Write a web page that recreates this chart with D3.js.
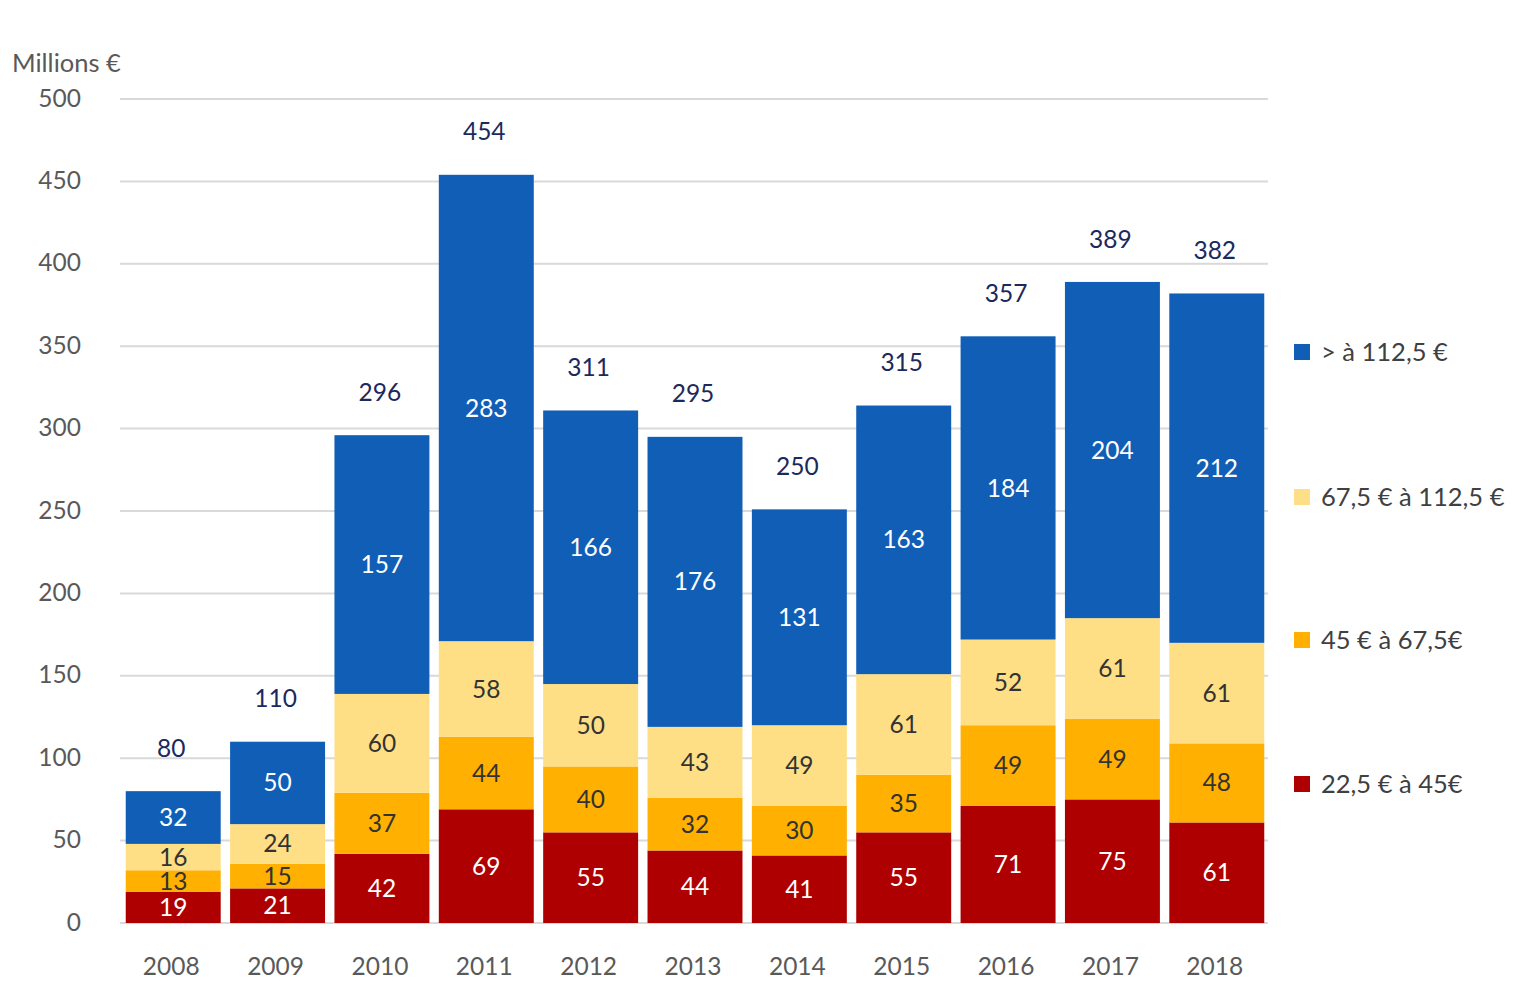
<!DOCTYPE html>
<html><head><meta charset="utf-8">
<script src="https://cdn.jsdelivr.net/npm/d3@7"></script>
<style>body{margin:0;background:#fff}svg{font-family:Lato,"Open Sans",sans-serif}</style>
</head><body><svg id="c" width="1518" height="994"></svg>
<script>
const years = ["2008","2009","2010","2011","2012","2013","2014","2015","2016","2017","2018"];
const seriesNames = ["22,5 € à 45€","45 € à 67,5€","67,5 € à 112,5 €","> à 112,5 €"];
const s1 = [19,21,42,69,55,44,41,55,71,75,61];
const s2 = [13,15,37,44,40,32,30,35,49,49,48];
const s3 = [16,24,60,58,50,43,49,61,52,61,61];
const s4 = [32,50,157,283,166,176,131,163,184,204,212];
const totals = [80,110,296,454,311,295,250,315,357,389,382];
const yTicks = [0,50,100,150,200,250,300,350,400,450,500];
const colors = ["#AE0000","#FFB000","#FFDF85","#115EB6"];
const labelColors = ["#fff","#333","#333","#fff"];
const FS = 24.5;

const svg = d3.select("#c");
const x = d3.scaleBand().domain(years).range([120,1270]).paddingInner(0.09).paddingOuter(0.055);
const y = d3.scaleLinear().domain([0,500]).range([923,99]);

const g = svg.append("g");
g.selectAll("line.grid").data(yTicks).join("line")
  .attr("x1",120).attr("x2",1268).attr("y1",d=>y(d)).attr("y2",d=>y(d))
  .attr("stroke","#D9D9D9").attr("stroke-width",2);
g.selectAll("text.yt").data(yTicks).join("text")
  .attr("x",81).attr("y",d=>y(d)-1).attr("dy","0.35em").attr("text-anchor","end")
  .attr("fill","#595959").attr("font-size",FS).text(d=>d);
svg.append("text").attr("x",12).attr("y",63).attr("dy","0.35em").attr("fill","#595959")
  .attr("font-size",25.5).text("Millions €");

const table = years.map((yr,i)=>({year:yr, a:s1[i], b:s2[i], c:s3[i], d:s4[i]}));
const stack = d3.stack().keys(["a","b","c","d"])(table);
stack.forEach((layer,k)=>{
  const lg = svg.append("g");
  lg.selectAll("rect").data(layer).join("rect")
    .attr("x",d=>x(d.data.year)).attr("width",x.bandwidth())
    .attr("y",d=>y(d[1])).attr("height",d=>y(d[0])-y(d[1]))
    .attr("fill",colors[k]);
  lg.selectAll("text").data(layer).join("text")
    .attr("x",d=>x(d.data.year)+x.bandwidth()/2).attr("y",d=>(y(d[0])+y(d[1]))/2)
    .attr("dy","0.35em").attr("text-anchor","middle").attr("font-size",FS)
    .attr("fill",labelColors[k]).text(d=>d[1]-d[0]);
});
const topLayer = stack[3];
svg.append("g").selectAll("text").data(totals).join("text")
  .attr("x",(d,i)=>x(years[i])+x.bandwidth()/2-2).attr("y",(d,i)=>y(topLayer[i][1])-43)
  .attr("dy","0.35em").attr("text-anchor","middle").attr("font-size",FS)
  .attr("fill","#1B2A5C").text(d=>d);
svg.append("g").selectAll("text").data(years).join("text")
  .attr("x",d=>x(d)+x.bandwidth()/2-2).attr("y",966).attr("dy","0.35em")
  .attr("text-anchor","middle").attr("font-size",FS).attr("fill","#595959").text(d=>d);

const legendOrder = [3,2,1,0];
const lgY = [352,497,640,784];
const leg = svg.append("g");
legendOrder.forEach((k,i)=>{
  leg.append("rect").attr("x",1294).attr("y",lgY[i]-8).attr("width",16).attr("height",16).attr("fill",colors[k]);
  leg.append("text").attr("x",1321).attr("y",lgY[i]).attr("dy","0.35em").attr("font-size",25.5)
    .attr("fill","#404040").text(seriesNames[k]);
});
</script></body></html>
